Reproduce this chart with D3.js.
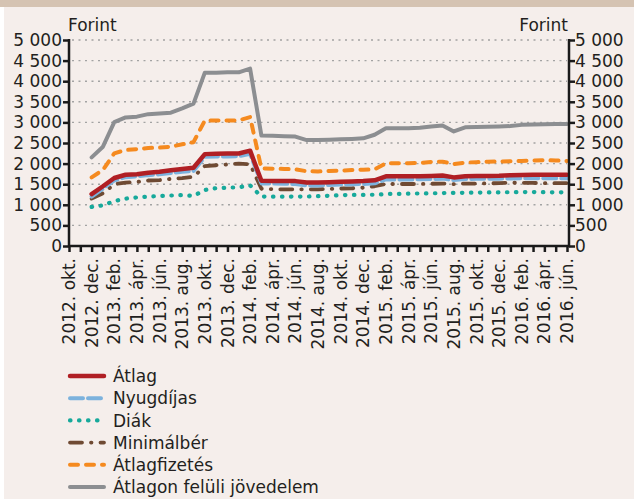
<!DOCTYPE html>
<html lang="hu">
<head>
    <meta charset="UTF-8">
    <title>Forint</title>
    <script src="https://d3js.org/d3.v7.min.js"></script>
    <style>
        body { margin: 0; background: #ffffff; }
        svg { display: block; font-family: "DejaVu Sans", sans-serif; }
        .lbl { font-size: 17px; fill: #231f20; }
        .axis text { font-size: 17px; fill: #231f20; font-family: "DejaVu Sans", sans-serif; }
        .axis line { stroke: #1a1a1a; stroke-width: 2.5; }
        .grid { stroke: #a3a3a3; stroke-width: 1.4; stroke-dasharray: 2 4.5; }
    </style>
</head>
<body>
<div id="chart"></div>
<script>
// categories: one per month, every other one gets a label
const months = [
    "2012. okt.", "2012. nov.", "2012. dec.",
    "2013. jan.", "2013. feb.", "2013. márc.", "2013. ápr.", "2013. máj.", "2013. jún.",
    "2013. júl.", "2013. aug.", "2013. szept.", "2013. okt.", "2013. nov.", "2013. dec.",
    "2014. jan.", "2014. feb.", "2014. márc.", "2014. ápr.", "2014. máj.", "2014. jún.",
    "2014. júl.", "2014. aug.", "2014. szept.", "2014. okt.", "2014. nov.", "2014. dec.",
    "2015. jan.", "2015. feb.", "2015. márc.", "2015. ápr.", "2015. máj.", "2015. jún.",
    "2015. júl.", "2015. aug.", "2015. szept.", "2015. okt.", "2015. nov.", "2015. dec.",
    "2016. jan.", "2016. feb.", "2016. márc.", "2016. ápr.", "2016. máj.", "2016. jún."
];

// series values (Forint), null where there is no data
const atlag = [null, null, 1260, 1450, 1650, 1730, 1740, 1780, 1800, 1840, 1870, 1900,
    2230, 2240, 2245, 2245, 2314, 1585, 1580, 1577, 1575, 1540, 1540, 1550, 1560, 1565, 1575,
    1595, 1690, 1690, 1690, 1695, 1700, 1710, 1665, 1695, 1700, 1700, 1705, 1720, 1725, 1730,
    1730, 1730, 1730];
const nyugdijas = [null, null, 1200, 1390, 1590, 1670, 1690, 1720, 1740, 1770, 1800, 1820,
    2165, 2170, 2175, 2180, 2240, 1520, 1515, 1510, 1505, 1470, 1470, 1480, 1490, 1500, 1505,
    1520, 1615, 1615, 1615, 1620, 1625, 1635, 1600, 1625, 1630, 1630, 1635, 1640, 1645, 1645,
    1645, 1645, 1645];
const diak = [null, null, 950, 985, 1090, 1150, 1180, 1200, 1215, 1225, 1235, 1215,
    1360, 1405, 1415, 1425, 1470, 1200, 1197, 1197, 1200, 1200, 1210, 1220, 1235, 1240, 1240,
    1245, 1262, 1265, 1270, 1275, 1278, 1285, 1290, 1292, 1295, 1300, 1302, 1305, 1310, 1310,
    1305, 1302, 1302];
const minimalber = [null, null, 1150, 1280, 1500, 1537, 1555, 1590, 1600, 1630, 1650, 1680,
    1940, 1960, 1980, 2000, 1985, 1390, 1380, 1375, 1375, 1375, 1375, 1385, 1395, 1400, 1415,
    1450, 1505, 1505, 1505, 1505, 1510, 1515, 1500, 1515, 1515, 1520, 1525, 1535, 1535, 1530,
    1525, 1525, 1525];
const atlagfizetes = [null, null, 1667, 1845, 2249, 2330, 2350, 2378, 2390, 2411, 2468, 2520,
    3045, 3045, 3045, 3050, 3130, 1880, 1877, 1870, 1860, 1815, 1810, 1820, 1830, 1845, 1850,
    1861, 2007, 2007, 2010, 2015, 2040, 2047, 1990, 2025, 2035, 2045, 2050, 2060, 2065, 2075,
    2085, 2075, 2065];
const atlagFeletti = [null, null, 2152, 2410, 3005, 3120, 3140, 3200, 3215, 3235, 3340, 3455,
    4207, 4207, 4220, 4215, 4305, 2680, 2675, 2665, 2655, 2570, 2575, 2580, 2590, 2600, 2614,
    2700, 2856, 2856, 2856, 2870, 2900, 2925, 2780, 2880, 2890, 2896, 2900, 2910, 2940, 2950,
    2955, 2960, 2960];

const seriesNames = ["Átlag", "Nyugdíjas", "Diák", "Minimálbér", "Átlagfizetés", "Átlagon felüli jövedelem"];
const yTicks = [0, 500, 1000, 1500, 2000, 2500, 3000, 3500, 4000, 4500, 5000];

// look of each series
const styles = {
    "Átlag":        { color: "#b01f24", width: 4.5, dash: null,           cap: "round" },
    "Nyugdíjas":    { color: "#7cb2dd", width: 4,   dash: "13 5",         cap: "round" },
    "Diák":         { color: "#17a99b", width: 4.2, dash: "0.5 8.5",      cap: "round" },
    "Minimálbér":   { color: "#6f4a33", width: 3.8, dash: "12 9 0.5 9",   cap: "round" },
    "Átlagfizetés": { color: "#f58a1f", width: 4,   dash: "8 8",          cap: "round" },
    "Átlagon felüli jövedelem": { color: "#8c8e91", width: 4, dash: null, cap: "round" }
};

const seriesData = {
    "Átlag": atlag,
    "Nyugdíjas": nyugdijas,
    "Diák": diak,
    "Minimálbér": minimalber,
    "Átlagfizetés": atlagfizetes,
    "Átlagon felüli jövedelem": atlagFeletti
};

const W = 634, H = 499;
const plot = { left: 69, right: 569, top: 40, bottom: 246 };

const svg = d3.select("#chart").append("svg")
    .attr("width", W)
    .attr("height", H);

// background: panel + top band
svg.append("rect").attr("x", 4).attr("y", 0).attr("width", W - 4).attr("height", H).attr("fill", "#f5eeeb");
svg.append("rect").attr("x", 0).attr("y", 0).attr("width", W).attr("height", 7).attr("fill", "#d5c3b2");

const x = d3.scalePoint()
    .domain(months)
    .range([plot.left, 567]);

const y = d3.scaleLinear()
    .domain([0, 5000])
    .range([plot.bottom, plot.top]);

const huFormat = d3.formatLocale({ decimal: ",", thousands: " ", grouping: [3], currency: ["", ""] }).format(",d");

// dotted gridlines
svg.append("g")
    .selectAll("line")
    .data(yTicks.filter(d => d > 0))
    .join("line")
    .attr("class", "grid")
    .attr("x1", plot.left + 3)
    .attr("x2", plot.right - 2)
    .attr("y1", d => y(d))
    .attr("y2", d => y(d));

// lines, drawn bottom to top
const line = d3.line()
    .defined(d => d.v != null)
    .x(d => x(d.m))
    .y(d => y(d.v));

const drawOrder = ["Átlagon felüli jövedelem", "Átlagfizetés", "Minimálbér", "Diák", "Nyugdíjas", "Átlag"];
drawOrder.forEach(name => {
    const st = styles[name];
    const pts = seriesData[name].map((v, i) => ({ m: months[i], v: v }));
    svg.append("path")
        .datum(pts)
        .attr("fill", "none")
        .attr("stroke", st.color)
        .attr("stroke-width", st.width)
        .attr("stroke-linecap", st.cap)
        .attr("stroke-linejoin", "round")
        .attr("stroke-dasharray", st.dash)
        .attr("d", line);
});

// axes
const yLeft = svg.append("g")
    .attr("class", "axis")
    .attr("transform", `translate(${plot.left},0)`)
    .call(d3.axisLeft(y).tickValues(yTicks).tickFormat(huFormat).tickSize(6).tickSizeOuter(0).tickPadding(1));
yLeft.select(".domain").remove();

const yRight = svg.append("g")
    .attr("class", "axis")
    .attr("transform", `translate(${plot.right},0)`)
    .call(d3.axisRight(y).tickValues(yTicks).tickFormat(huFormat).tickSize(6).tickSizeOuter(0).tickPadding(0));
yRight.select(".domain").remove();

const xAxis = svg.append("g")
    .attr("class", "axis")
    .attr("transform", `translate(0,${plot.bottom})`)
    .call(d3.axisBottom(x).tickSize(6).tickSizeOuter(0).tickFormat(""));
xAxis.select(".domain").remove();

// month labels, every second one, rotated
svg.append("g")
    .selectAll("text")
    .data(months.filter((d, i) => i % 2 === 0))
    .join("text")
    .attr("class", "lbl")
    .attr("transform", d => `translate(${x(d)},258) rotate(-90)`)
    .attr("text-anchor", "end")
    .attr("dy", "0.36em")
    .text(d => d);

// axis frame lines
svg.append("path")
    .attr("d", `M${plot.left},${plot.top - 1}V${plot.bottom}H${plot.right}V${plot.top - 1}`)
    .attr("fill", "none")
    .attr("stroke", "#1a1a1a")
    .attr("stroke-width", 2.5);

// unit labels
svg.append("text").attr("class", "lbl").attr("x", 68).attr("y", 31).text("Forint");
svg.append("text").attr("class", "lbl").attr("x", 568).attr("y", 31).attr("text-anchor", "end").text("Forint");

// legend
const legend = svg.append("g")
    .selectAll("g")
    .data(seriesNames)
    .join("g")
    .attr("transform", (d, i) => `translate(0,${376 + i * 22.2})`);

legend.append("line")
    .attr("x1", 70).attr("x2", 104)
    .attr("y1", 0).attr("y2", 0)
    .attr("stroke", d => styles[d].color)
    .attr("stroke-width", d => styles[d].width)
    .attr("stroke-linecap", d => styles[d].cap)
    .attr("stroke-dasharray", d => styles[d].dash);

legend.append("text")
    .attr("class", "lbl")
    .attr("x", 113)
    .attr("dy", "0.36em")
    .text(d => d);
</script>
</body>
</html>
